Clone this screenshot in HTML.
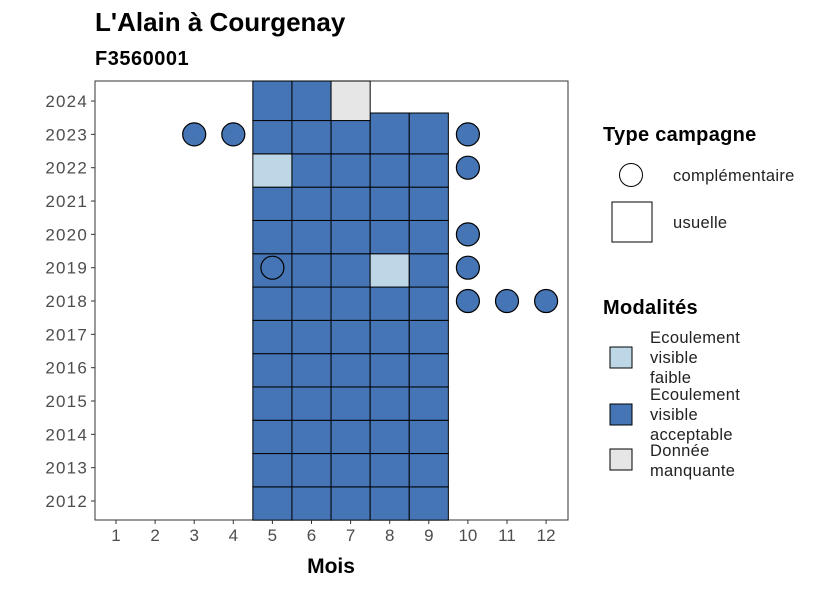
<!DOCTYPE html>
<html><head><meta charset="utf-8"><style>
body{margin:0;background:#fff;}
svg text{font-family:"Liberation Sans",sans-serif;}
</style></head><body>
<svg id="c" width="826" height="590" xmlns="http://www.w3.org/2000/svg">
<text x="95" y="31" font-size="26" font-weight="bold" fill="#000">L'Alain à Courgenay</text>
<text x="95" y="65" font-size="20" font-weight="bold" fill="#000" letter-spacing="0.5">F3560001</text>
<rect x="95" y="81" width="473" height="439" fill="#fff" stroke="#333" stroke-width="1"/>
<g id="tiles"></g><g id="pts"></g><g id="axes"></g>
<text x="331" y="573" font-size="21" font-weight="bold" text-anchor="middle">Mois</text>
<text x="603" y="141" font-size="20" font-weight="bold" letter-spacing="0.3">Type campagne</text>
<circle cx="631" cy="175" r="11.5" fill="#fff" stroke="#000"/>
<text x="673" y="181" font-size="16.5" fill="#222" letter-spacing="0.3">complémentaire</text>
<rect x="612" y="202" width="40" height="40" fill="#fff" stroke="#000"/>
<text x="673" y="228" font-size="16.5" fill="#222" letter-spacing="0.3">usuelle</text>
<text x="603" y="314" font-size="20" font-weight="bold" letter-spacing="0.3">Modalités</text>
<rect x="610" y="347" width="22" height="21" fill="#bdd7e7" stroke="#000"/>
<text font-size="16.5" fill="#222" letter-spacing="0.3"><tspan x="650" y="343">Ecoulement</tspan><tspan x="650" y="363">visible</tspan><tspan x="650" y="383">faible</tspan></text>
<rect x="610" y="404" width="22" height="21" fill="#4575b4" stroke="#000"/>
<text font-size="16.5" fill="#222" letter-spacing="0.3"><tspan x="650" y="400">Ecoulement</tspan><tspan x="650" y="420">visible</tspan><tspan x="650" y="440">acceptable</tspan></text>
<rect x="610" y="449" width="22" height="21" fill="#e6e6e6" stroke="#000"/>
<text font-size="16.5" fill="#222" letter-spacing="0.3"><tspan x="650" y="456">Donnée</tspan><tspan x="650" y="476">manquante</tspan></text>
</svg>
<script>
const months=[1,2,3,4,5,6,7,8,9,10,11,12];
const years=[2012,2013,2014,2015,2016,2017,2018,2019,2020,2021,2022,2023,2024];
// tiles: [month, year, modality] 0=faible 1=acceptable 2=manquante
const tileMonths=[5,6,7,8,9];
const tileYears=[2012,2013,2014,2015,2016,2017,2018,2019,2020,2021,2022,2023];
const tileExceptions=[[5,2022,0],[8,2019,0]];
const tile2024=[[5,2024,1],[6,2024,1],[7,2024,2]];
// points: [month, year, filled]
const points=[[3,2023,1],[4,2023,1],[10,2023,1],[10,2022,1],[10,2020,1],[5,2019,0],[10,2019,1],[10,2018,1],[11,2018,1],[12,2018,1]];
const colors=["#bdd7e7","#4575b4","#e6e6e6"];
const NS="http://www.w3.org/2000/svg";
const xS=m=>116+(m-1)*39.1;
const yS=y=>501-(y-2012)*33.33;
const yT=y=>503.5-(y-2012)*33.3;
const tw=39.1, th=33.3;
function mk(t,a,p){const e=document.createElementNS(NS,t);for(const k in a)e.setAttribute(k,a[k]);p.appendChild(e);return e;}
const tg=document.getElementById('tiles');
let tiles=[];
tileYears.forEach(y=>tileMonths.forEach(m=>{let mod=1;tileExceptions.forEach(e=>{if(e[0]===m&&e[1]===y)mod=e[2];});tiles.push([m,y,mod]);}));
tiles=tiles.concat(tile2024);
const maxYear=Math.max(...tiles.map(t=>t[1]));
tiles.forEach(t=>{let top=yT(t[1])-th/2,bot=yT(t[1])+th/2;
if(t[1]===maxYear)top=81;
else if(t[1]===maxYear-1&&!tiles.some(u=>u[1]===maxYear&&u[0]===t[0]))top=113;
const r=mk('rect',{x:xS(t[0])-tw/2,y:top,width:tw,height:bot-top,fill:colors[t[2]],stroke:'#000','stroke-width':1},tg);

});
const pg=document.getElementById('pts');
points.forEach(p=>{const c=mk('circle',{cx:xS(p[0]),cy:yS(p[1]),r:11.5,fill:p[2]?'#4575b4':'none',stroke:'#000','stroke-width':1.2},pg);

});
const ag=document.getElementById('axes');
months.forEach(m=>{mk('line',{x1:xS(m),x2:xS(m),y1:520,y2:524,stroke:'#333'},ag);
const t=mk('text',{x:xS(m),y:541,'font-size':17,'text-anchor':'middle',fill:'#4d4d4d'},ag);t.textContent=m;

});
years.forEach(y=>{mk('line',{x1:91,x2:95,y1:yS(y),y2:yS(y),stroke:'#333'},ag);
const t=mk('text',{x:88,y:yS(y)+6,'font-size':17,'letter-spacing':1.2,'text-anchor':'end',fill:'#4d4d4d'},ag);t.textContent=y;

});
</script>
</body></html>
